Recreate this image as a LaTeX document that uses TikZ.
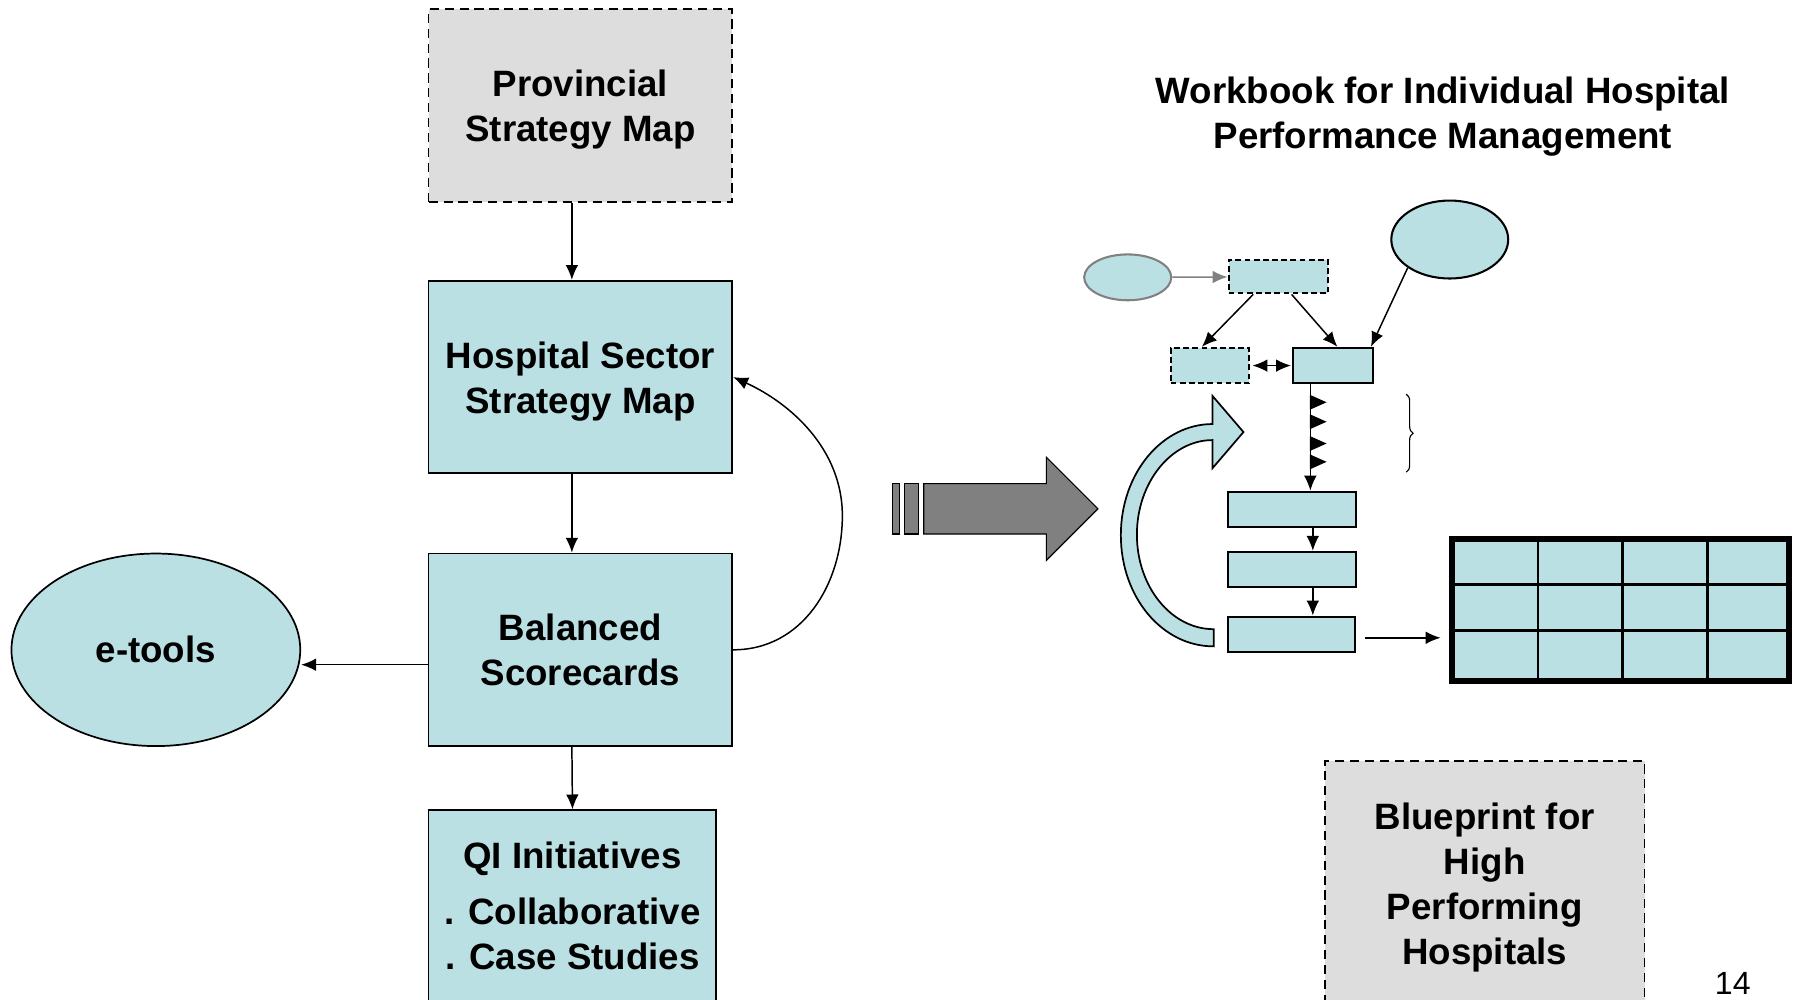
\documentclass[tikz,border=0pt]{standalone}
\usepackage{fontspec}
\setmainfont{Liberation Sans}
\usetikzlibrary{arrows.meta,shapes.geometric,decorations.pathreplacing}
\definecolor{paleblue}{HTML}{BBE0E3}
\definecolor{palegray}{HTML}{DDDDDD}
\definecolor{midgray}{HTML}{808080}
\newcommand{\lowstrut}{\rule{0pt}{31pt}}

\begin{document}
\begin{tikzpicture}[x=1pt,y=-1pt,
	font=\fontsize{32}{39}\selectfont\bfseries,
	>={Latex[length=13pt,width=11pt]},
	conn/.style={->,line width=1.3pt},
	mapbox/.style={draw,line width=1.5pt,fill=paleblue,minimum width=265pt,minimum height=168pt,align=center,inner sep=0pt},
	dashbox/.style={mapbox,fill=palegray,dash pattern=on 8pt off 5pt},
	minibox/.style={draw,line width=1.8pt,fill=paleblue,inner sep=0pt},
	minidash/.style={minibox,dash pattern=on 5pt off 3pt}]
	\clip (0,0) rectangle (1568,872);

	% Left column: strategy maps
	\node (provmap) at (506.5,92) [dashbox] {\lowstrut Provincial\\ Strategy Map};
	\node (hsmap) at (506.5,329) [mapbox] {\lowstrut Hospital Sector\\ Strategy Map};
	\node (bscard) at (506.5,567) [mapbox] {Balanced\\ Scorecards};
	\node (qiinit) at (499.5,790.5) [mapbox,minimum width=251pt,minimum height=167pt] {QI Initiatives\\[10pt] . Collaborative\\ . Case Studies};
	\node (etools) at (136,567) [ellipse,draw,line width=1.5pt,fill=paleblue,minimum width=252pt,minimum height=168pt] {e-tools};

	% Left column: arrows
	\draw[conn] ([xshift=-7.5pt]provmap.south) -- ([xshift=-7.5pt]hsmap.north);
	\draw[conn] ([xshift=-7.5pt]hsmap.south) -- ([xshift=-7.5pt]bscard.north);
	\draw[conn] ([xshift=-7.5pt]bscard.south) -- (qiinit.north);
	\coordinate (bsw) at ([yshift=-13pt]bscard.west);
	\draw[conn] (bsw) -- (etools.east |- bsw);
	% feedback loop
	\draw[conn] (bscard.east) .. controls (700,567) and (735,510) .. (735,450) .. controls (735,392) and (690,352) .. (hsmap.east);

	% Workbook title
	\node (wbtitle) at (1259,98) [align=center] {\lowstrut Workbook for Individual Hospital\\ Performance Management};

	% Gray block arrow
	\draw[fill=midgray,line width=1pt] (779,422) rectangle (785,466);
	\draw[fill=midgray,line width=1pt] (789.5,422) rectangle (801.5,466);
	\draw[fill=midgray,line width=1pt] (806,422) -- (913,422) -- (913,399) -- (958,444) -- (913,489) -- (913,466) -- (806,466) -- cycle;

	% Workbook sketch
	\node (smell) at (984,242) [ellipse,draw=midgray,line width=1.8pt,fill=paleblue,minimum width=76pt,minimum height=40pt] {};
	\node (bigell) at (1265,209) [ellipse,draw,line width=1.8pt,fill=paleblue,minimum width=102pt,minimum height=68pt] {};
	\node (wbtop) at (1115.5,241.5) [minidash,minimum width=87pt,minimum height=29pt] {};
	\node (wbleft) at (1055.75,319) [minidash,minimum width=68.5pt,minimum height=31pt] {};
	\node (wbmain) at (1163.35,319) [minibox,minimum width=70pt,minimum height=31pt] {};
	\node (stepa) at (1127.5,444.5) [minibox,minimum width=112pt,minimum height=31pt] {};
	\node (stepb) at (1127.5,497) [minibox,minimum width=112pt,minimum height=31pt] {};
	\node (stepc) at (1127,553.5) [minibox,minimum width=111pt,minimum height=31pt] {};

	\draw[conn,midgray] (smell) -- (wbtop);
	\draw[conn] ([xshift=-22pt]wbtop.south) -- ([xshift=-7pt]wbleft.north);
	\draw[conn] ([xshift=11.5pt]wbtop.south) -- ([xshift=3.6pt]wbmain.north);
	\draw[conn] (bigell.south west) -- ([xshift=-3pt]wbmain.north east);
	\draw[<->,line width=1.3pt,shorten <=2pt,shorten >=1pt] (wbleft) -- (wbmain);

	% chain down to the steps
	\coordinate (chain) at ([xshift=-20pt]wbmain.south);
	\draw[conn] (chain) -- (chain |- stepa.north);
	\foreach \ty in {351,368,387,403}
		\fill (1143,\ty-6.5) -- (1157.5,\ty) -- (1143,\ty+6.5) -- cycle;
	\coordinate (stepx) at ([xshift=18pt]stepa.south);
	\draw[conn] (stepx) -- (stepx |- stepb.north);
	\draw[conn] (stepx |- stepb.south) -- (stepx |- stepc.north);
	\draw[decorate,decoration={brace,amplitude=6pt},line width=1pt] (1227,344) -- (1227,412);

	% curved block arrow
	\draw[fill=paleblue,line width=1.5pt] (1059,564) .. controls (1014,564) and (978,521) .. (978,467)
		.. controls (978,413) and (1014,370) .. (1058,370) -- (1058,345.5) -- (1085,377) -- (1058,408.5) -- (1058,384)
		.. controls (1022,384) and (992,421) .. (992,466.5) .. controls (992,512) and (1022,549) .. (1059,549) -- cycle;

	% table
	\coordinate (tblin) at (1257,556.5);
	\draw[conn] ([xshift=8pt,yshift=-3pt]stepc.east) -- (tblin);
	\fill[paleblue] (1267,470) rectangle (1561,594);
	\foreach \tx in {1342,1416,1490}
		\draw[line width=2.5pt] (\tx,470) -- (\tx,594);
	\foreach \tr in {510,550}
		\draw[line width=2.5pt] (1267,\tr) -- (1561,\tr);
	\draw[line width=5pt] (1267,470) rectangle (1561,594);

	% Blueprint box
	\node (blueprint) at (1295.5,770.5) [dashbox,minimum width=279pt,minimum height=213pt] {\lowstrut Blueprint for\\ High\\ Performing\\ Hospitals};

	% page number
	\node (pagenum) at (1512,858) [font=\mdseries\fontsize{28}{34}\selectfont] {14};
\end{tikzpicture}
\end{document}
